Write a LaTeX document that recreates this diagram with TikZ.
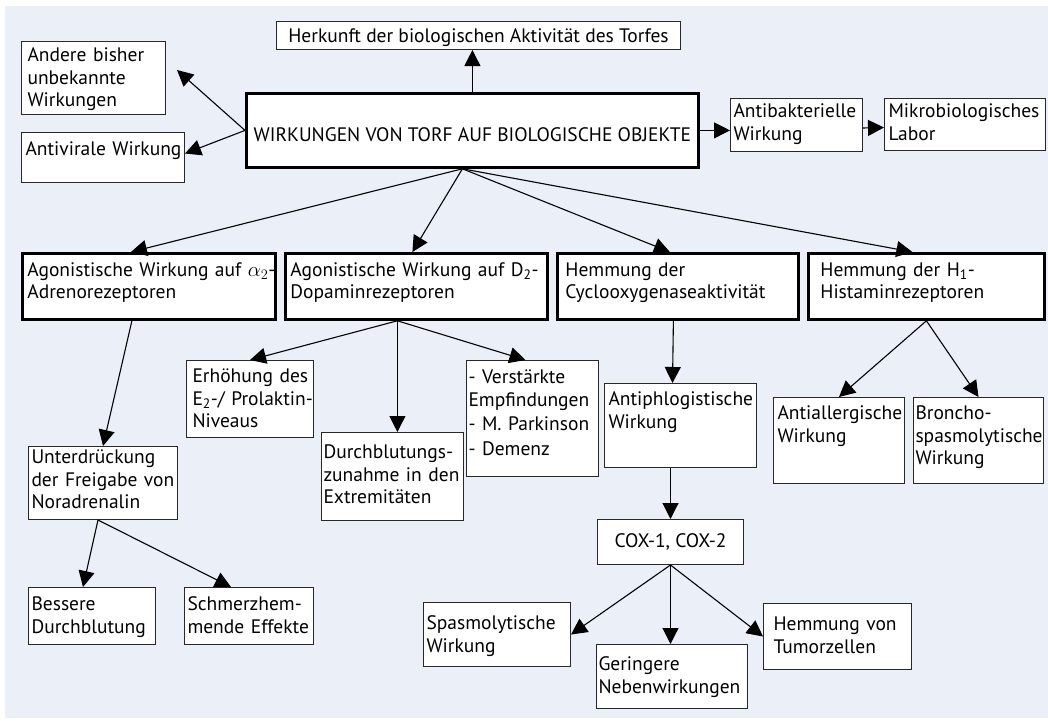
\documentclass[tikz,border=0pt]{standalone}
\usepackage{fontspec}
\setmainfont{PT Sans}
\usetikzlibrary{arrows.meta}
\definecolor{backblue}{RGB}{235,239,248}
\definecolor{boxline}{RGB}{40,40,40}

\begin{document}
\begin{tikzpicture}[x=1pt,y=-1pt,
	box/.style={draw=boxline, line width=1pt, fill=white, anchor=north west, align=left,
		inner xsep=4pt, inner ysep=2pt, font=\fontsize{19.5}{22.5}\selectfont},
	thickbox/.style={box, draw=black, line width=2.8pt},
	arr/.style={-{Triangle[length=16pt,width=16pt]}, line width=1.1pt}]

	%Background
	\useasboundingbox (0,0) rectangle (1048,720);
	\fill [backblue] (5,6) rectangle (1048,718);

	%Top level
	\node [thickbox, align=center, minimum width=452pt, text height=46pt, text depth=24pt] (main) at (245,92) {WIRKUNGEN VON TORF AUF BIOLOGISCHE OBJEKTE};
	\node [box, align=center, minimum width=404pt, text height=19pt, text depth=5pt] (herkunft) at (276,21) {Herkunft der biologischen Aktivität des Torfes};
	\node [box, inner xsep=6pt, text width=132pt, text height=18pt, text depth=51pt] (andere) at (21,41) {Andere~bisher\\unbekannte\\Wirkungen};
	\node [box, text width=155pt, text height=21pt, text depth=25pt] (antiviral) at (21,132) {Antivirale~Wirkung};
	\node [box, inner xsep=3pt, text width=126pt, text height=17pt, text depth=32pt] (antibakt) at (730,98) {Antibakterielle\\Wirkung};
	\node [box, text width=153pt, text height=17pt, text depth=31pt] (mikro) at (884,98) {Mikrobiologisches\\Labor};

	%Second level
	\node [thickbox, inner xsep=5pt, text width=243pt, text height=21pt, text depth=41pt] (a2) at (21,252) {\mbox{Agonistische Wirkung auf $\alpha_2$-}\\Adrenorezeptoren};
	\node [thickbox, inner xsep=5pt, text width=252pt, text height=21pt, text depth=41pt] (d2) at (284,252) {\mbox{Agonistische Wirkung auf D\textsubscript{2}-}\\Dopaminrezeptoren};
	\node [thickbox, inner xsep=8pt, text width=225pt, text height=21pt, text depth=41pt] (cyc) at (556,252) {Hemmung~der\\Cyclooxygenaseaktivität};
	\node [thickbox, inner xsep=12pt, text width=212pt, text height=21pt, text depth=41pt] (h1) at (807,252) {\mbox{Hemmung der H\textsubscript{1}-}\\Histaminrezeptoren};

	%Third level
	\node [box, inner xsep=3pt, text width=143pt, text height=15pt, text depth=54pt] (unter) at (28,446) {Unterdrückung\\der~Freigabe~von\\Noradrenalin};
	\node [box, inner xsep=6pt, text width=115pt, text height=20pt, text depth=53pt] (erh) at (186,360) {Erhöhung~des\\\mbox{E\textsubscript{2}-/ Prolaktin-}\\Niveaus};
	\node [box, inner xsep=2pt, text width=138pt, text height=24pt, text depth=60pt] (durch) at (321,432) {Durchblutungs-\\zunahme~in~den\\Extremitäten};
	\node [box, inner xsep=2pt, text width=128pt, text height=21pt, text depth=91pt] (verst) at (466,360) {-~Verstärkte\\Empfindungen\\[2pt]-~M.~Parkinson\\[2pt]-~Demenz};
	\node [box, text width=144pt, text height=20pt, text depth=60pt] (antiph) at (604,383) {Antiphlogistische\\Wirkung};
	\node [box, text width=123pt, text height=20pt, text depth=62pt] (antial) at (773,397) {Antiallergische\\Wirkung};
	\node [box, inner xsep=2pt, text width=126pt, text height=20pt, text depth=62pt] (bronch) at (913,397) {Broncho-\\spasmolytische\\Wirkung};

	%Lower level
	\node [box, align=center, minimum width=146pt, text height=26pt, text depth=15pt] (cox) at (597,519) {COX-1, COX-2};
	\node [box, inner xsep=3pt, text width=121pt, text height=21pt, text depth=32pt] (besser) at (28,587) {Bessere\\Durchblutung};
	\node [box, inner xsep=3pt, text width=123pt, text height=21pt, text depth=32pt] (schmerz) at (184,587) {Schmerzhem-\\mende~Effekte};
	\node [box, inner xsep=3pt, text width=141pt, text height=25pt, text depth=35pt] (spasmo) at (423,602) {Spasmolytische\\Wirkung};
	\node [box, inner xsep=2pt, text width=147pt, text height=24pt, text depth=36pt] (gering) at (596,644) {Geringere\\Nebenwirkungen};
	\node [box, inner xsep=10pt, text width=128pt, text height=25pt, text depth=37pt] (tumor) at (763,603) {Hemmung~von\\Tumorzellen};

	%Arrows from the main box
	\draw [arr] (main.north) -- (main.north |- herkunft.south);
	\draw [arr] (main.west) -- ([xshift=11pt,yshift=8pt]andere.east);
	\draw [arr] (main.west) -- ([yshift=4pt]antiviral.east);
	\draw [arr] (main.east) -- (main.east -| antibakt.west);
	\draw [arr] ([yshift=-3pt]antibakt.east) -- ([yshift=-3pt]mikro.west);
	\coordinate (fork) at ([xshift=-10pt]main.south);
	\draw [arr] (fork) -- ([xshift=-18pt]a2.north);
	\draw [arr] (fork) -- ([xshift=-4pt]d2.north);
	\draw [arr] (fork) -- ([xshift=-8pt]cyc.north);
	\draw [arr] (fork) -- ([xshift=-14pt]h1.north);

	%Arrows below the second level
	\draw [arr] ([xshift=-17pt]a2.south) -- (unter.north);
	\coordinate (dfork) at ([xshift=-19pt]d2.south);
	\draw [arr] (dfork) -- (erh.north);
	\draw [arr] (dfork) -- (dfork |- durch.north);
	\draw [arr] (dfork) -- ([xshift=-7pt]verst.north);
	\draw [arr] ([xshift=-4.5pt]cyc.south) -- ([xshift=-8pt]antiph.north);
	\draw [arr] (cox.north |- antiph.south) -- (cox.north);
	\draw [arr] (h1.south) -- (antial.north);
	\draw [arr] (h1.south) -- (bronch.north);
	\draw [arr] ([xshift=-5pt]unter.south) -- ([xshift=-9pt]besser.north);
	\draw [arr] ([xshift=-5pt]unter.south) -- ([xshift=-18pt]schmerz.north);
	\draw [arr] (cox.south) -- (spasmo.east);
	\draw [arr] (cox.south) -- (cox.south |- gering.north);
	\draw [arr] (cox.south) -- (tumor.west);

\end{tikzpicture}
\end{document}
